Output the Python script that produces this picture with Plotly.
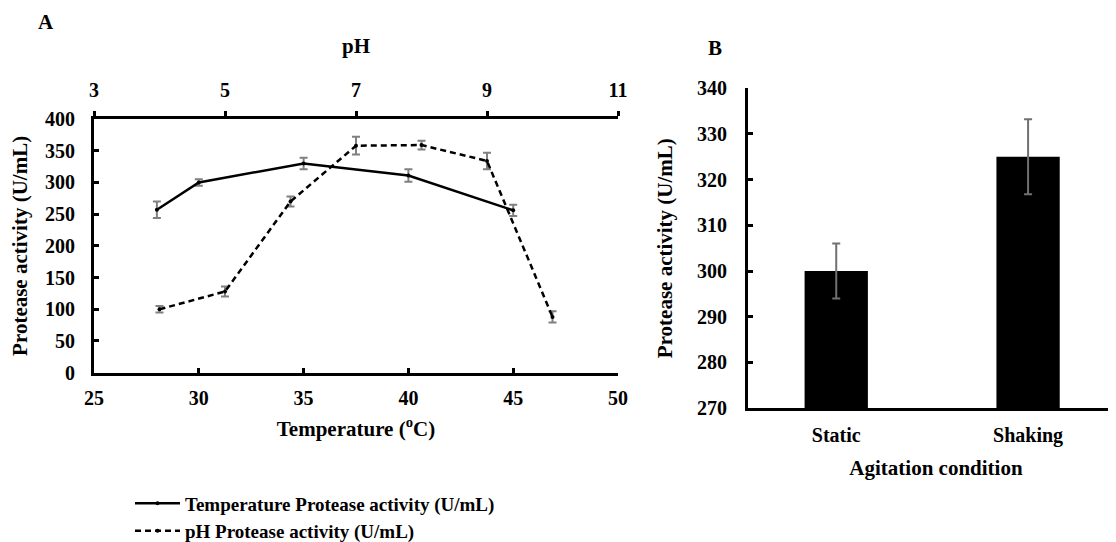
import plotly.graph_objects as go

# ---------------- data ----------------
temp_c = [28, 30, 35, 40, 45]
temp_activity = [257, 300, 330, 311, 256]
temp_err = [13, 5, 9, 10, 9]

ph_values = [4, 5, 6, 7, 8, 9, 10]
ph_activity = [100, 128, 270, 358, 359, 334, 88]
ph_err = [5, 8, 8, 14, 7, 13, 9]

agitation = ["Static", "Shaking"]
agitation_activity = [300, 325]
agitation_err = [6, 8.2]

W, H = 1116, 542
FONT = "Liberation Serif"


def px(x):
    return x / W


def py(y):
    return 1 - y / H


fig = go.Figure()

fig.add_trace(go.Scatter(
    x=temp_c, y=temp_activity, xaxis="x", yaxis="y",
    mode="lines+markers", name="Temperature Protease activity (U/mL)",
    line=dict(color="black", width=2.5),
    marker=dict(color="black", size=4, symbol="circle"),
    error_y=dict(type="data", array=temp_err, color="#808080", thickness=2, width=4),
    legend="legend",
))

fig.add_trace(go.Scatter(
    x=ph_values, y=ph_activity, xaxis="x2", yaxis="y",
    mode="lines+markers", name="pH Protease activity (U/mL)",
    line=dict(color="black", width=2.5, dash="6px,4px"),
    marker=dict(color="black", size=4, symbol="circle"),
    error_y=dict(type="data", array=ph_err, color="#808080", thickness=2, width=4),
    legend="legend2",
))

fig.add_trace(go.Bar(
    x=agitation, y=agitation_activity, xaxis="x3", yaxis="y3",
    marker=dict(color="black", line=dict(width=0)),
    width=0.33,
    error_y=dict(type="data", array=agitation_err, color="#707070", thickness=2, width=4),
    showlegend=False,
))

axis_common = dict(
    showgrid=False, zeroline=False, showline=True, linecolor="black", linewidth=3,
    tickcolor="black", tickwidth=3, ticklen=5, automargin=False,
    tickfont=dict(family=FONT, size=20, color="black", weight="bold"),
)

title_font = dict(family=FONT, size=21, color="black", weight="bold")
legend_font = dict(family=FONT, size=19, color="black", weight="bold")

fig.update_layout(
    width=W, height=H,
    margin=dict(l=0, r=0, t=0, b=0),
    paper_bgcolor="white", plot_bgcolor="white",
    font=dict(family=FONT, color="black", weight="bold"),
    showlegend=True,
    xaxis=dict(
        **axis_common, domain=[px(86), px(610)], anchor="y",
        range=[25, 50], tickvals=[25, 30, 35, 40, 45, 50], ticks="inside",
        ticklabelstandoff=5,
        title=dict(text="Temperature (<sup>o</sup>C)", font=title_font, standoff=14),
    ),
    xaxis2=dict(
        **axis_common, overlaying="x", side="top", anchor="y",
        range=[3, 11], tickvals=[3, 5, 7, 9, 11], ticks="outside",
        ticklabelstandoff=6,
        title=dict(text="pH", font=title_font, standoff=20),
    ),
    yaxis=dict(
        **axis_common, domain=[py(366.7), py(111.7)], anchor="x",
        range=[0, 400], tickvals=list(range(0, 401, 50)), ticks="inside",
        ticklabelstandoff=12,
        title=dict(text="Protease activity (U/mL)", font=title_font, standoff=15),
    ),
    xaxis3=dict(
        **axis_common, domain=[px(740), 1.0], anchor="y3",
        range=[-0.46, 1.5], ticks="", ticklabelstandoff=7,
        title=dict(text="Agitation condition", font=title_font, standoff=15),
    ),
    yaxis3=dict(
        **axis_common, domain=[py(402.3), py(80.7)], anchor="x3",
        range=[270, 340], tickvals=list(range(270, 341, 10)), ticks="inside",
        ticklabelstandoff=14,
        title=dict(text="Protease activity (U/mL)", font=title_font, standoff=19),
    ),
    legend=dict(
        x=px(122), y=py(479), xanchor="left", yanchor="top",
        bgcolor="rgba(0,0,0,0)", itemwidth=45, font=legend_font,
    ),
    legend2=dict(
        x=px(122), y=py(507), xanchor="left", yanchor="top",
        bgcolor="rgba(0,0,0,0)", itemwidth=45, font=legend_font,
    ),
    annotations=[
        dict(text="A", x=px(38), y=py(14), xref="paper", yref="paper",
             xanchor="center", yanchor="middle", showarrow=False,
             font=dict(family=FONT, size=21, color="black", weight="bold")),
        dict(text="B", x=px(707), y=py(40), xref="paper", yref="paper",
             xanchor="center", yanchor="middle", showarrow=False,
             font=dict(family=FONT, size=21, color="black", weight="bold")),
    ],
)

fig.write_html("out.html")
